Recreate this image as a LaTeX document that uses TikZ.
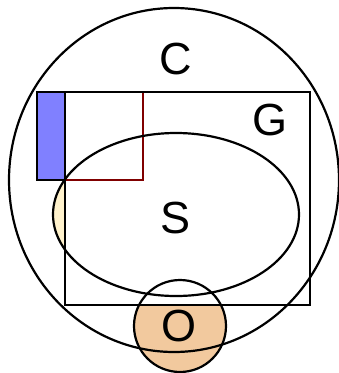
\documentclass[tikz,border=0pt]{standalone}
\usepackage{fontspec}
\setmainfont{Liberation Sans}
\usepackage{xcolor}
\usetikzlibrary{backgrounds}

\definecolor{setblue}{RGB}{128,128,255}
\definecolor{setred}{RGB}{128,0,0}
\definecolor{setcream}{RGB}{255,242,204}
\definecolor{setpeach}{RGB}{242,201,158}

\begin{document}
\begin{tikzpicture}[
        x=1pt, y=-1pt,
        setline/.style={draw=black, line width=2.2pt},
        setlabel/.style={inner sep=0pt, font=\fontsize{45}{45}\selectfont},
      ]
      \useasboundingbox (0,0) rectangle (339,373);

      % filled parts
      \begin{scope}
        \clip (176,214.5) ellipse [x radius=123, y radius=81.5];
        \fill[setcream] (40,92) rectangle (65,305);
      \end{scope}
      \begin{scope}
        \clip (180,326) circle [radius=46];
        \fill[setpeach] (120,305) rectangle (240,380);
      \end{scope}
      \fill[setblue] (37,92) rectangle (65,180);

      % outlines
      \draw[setline] (174,180) ellipse [x radius=165, y radius=172];
      \draw[setline, draw=setred] (65,92) rectangle (143,180);
      \draw[setline] (37,92) rectangle (65,180);
      \draw[setline] (65,92) rectangle (310,305);
      \draw[setline] (176,214.5) ellipse [x radius=123, y radius=81.5];
      \draw[setline] (180,326) circle [radius=46];

      \node[setlabel] (c) at (175.5,59) {C};
      \node[setlabel] (g) at (269.5,120.5) {G};
      \node[setlabel] (s) at (176,218) {S};
      \node[setlabel] (o) at (179,326.5) {O};

    \end{tikzpicture}
\end{document}
